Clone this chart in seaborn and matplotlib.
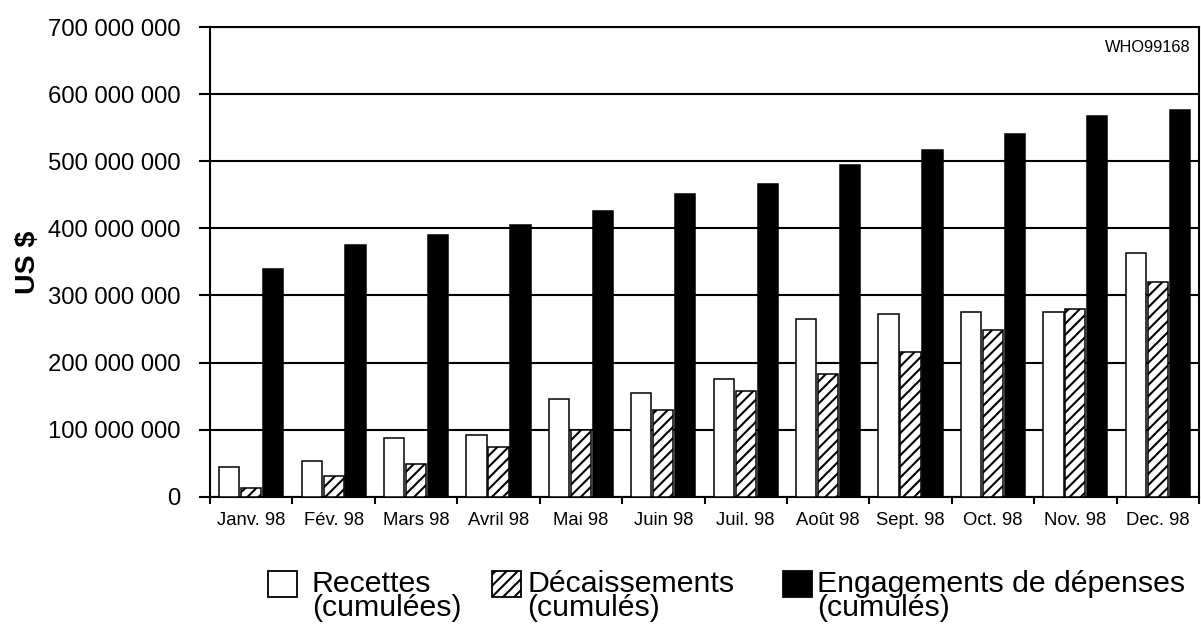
import numpy as np
import pandas as pd
import matplotlib
matplotlib.use("Agg")
import matplotlib.pyplot as plt
from matplotlib.patches import Patch, Rectangle
from matplotlib.legend_handler import HandlerPatch
from matplotlib.ticker import FuncFormatter
import seaborn as sns

# Mois (1998)
mois = ["Janv. 98", "Fév. 98", "Mars 98", "Avril 98", "Mai 98", "Juin 98",
        "Juil. 98", "Août 98", "Sept. 98", "Oct. 98", "Nov. 98", "Dec. 98"]

# Montants cumulés en US $
recettes = [45_000_000, 53_000_000, 88_000_000, 92_000_000, 146_000_000, 154_000_000,
            175_000_000, 265_000_000, 273_000_000, 276_000_000, 276_000_000, 363_000_000]
decaissements = [13_000_000, 31_000_000, 49_000_000, 74_000_000, 99_000_000, 129_000_000,
                 158_000_000, 183_000_000, 216_000_000, 248_000_000, 280_000_000, 320_000_000]
engagements = [339_000_000, 375_000_000, 390_000_000, 405_000_000, 426_000_000, 451_000_000,
               466_000_000, 495_000_000, 516_000_000, 541_000_000, 567_000_000, 577_000_000]

series = ["Recettes\n(cumulées)", "Décaissements\n(cumulés)",
          "Engagements de dépenses\n(cumulés)"]
y_ticks = [0, 100_000_000, 200_000_000, 300_000_000, 400_000_000,
           500_000_000, 600_000_000, 700_000_000]

df = pd.DataFrame({
    "Mois": mois * 3,
    "Montant": recettes + decaissements + engagements,
    "Série": [series[0]] * 12 + [series[1]] * 12 + [series[2]] * 12,
})

sns.set_style("white")
plt.rcParams["font.family"] = ["Liberation Sans", "DejaVu Sans"]
plt.rcParams["text.color"] = "black"
plt.rcParams["axes.labelcolor"] = "black"
plt.rcParams["xtick.color"] = "black"
plt.rcParams["ytick.color"] = "black"
plt.rcParams["hatch.linewidth"] = 1.5

styles = {
    series[0]: dict(facecolor="white", hatch=None),
    series[1]: dict(facecolor="white", hatch="///"),
    series[2]: dict(facecolor="black", hatch=None),
}

fig = plt.figure(figsize=(12.01, 6.28), dpi=100)
ax = fig.add_axes([210 / 1201, 131.3 / 628, 989 / 1201, 469.7 / 628])

sns.barplot(data=df, x="Mois", y="Montant", hue="Série", order=mois,
            hue_order=series, palette={s: styles[s]["facecolor"] for s in series},
            saturation=1, width=0.8, gap=0.08, edgecolor="black", linewidth=1.1,
            legend=False, zorder=3, ax=ax)

for cont, s in zip(ax.containers, series):
    for bar in cont:
        bar.set_facecolor(styles[s]["facecolor"])
        bar.set_edgecolor("black")
        if styles[s]["hatch"]:
            bar.set_hatch(styles[s]["hatch"])

# Axes, grid and frame
ax.set_ylim(0, 700_000_000)
ax.set_xlim(-0.5, len(mois) - 0.5)
ax.set_yticks(y_ticks)
ax.yaxis.set_major_formatter(FuncFormatter(lambda v, _: f"{v:,.0f}".replace(",", " ")))
ax.yaxis.grid(True, color="black", linewidth=1.5, zorder=0)
ax.set_axisbelow(True)
for sp in ax.spines.values():
    sp.set_visible(True)
    sp.set_color("black")
    sp.set_linewidth(1.5)

ax.set_xticks(np.arange(-0.5, len(mois), 1))
ax.set_xticks(np.arange(len(mois)), labels=mois, minor=True)
ax.tick_params(axis="x", which="major", length=5, width=1.5, color="black",
               direction="out", labelbottom=False, bottom=True)
ax.tick_params(axis="x", which="minor", length=0, labelsize=13.3, pad=11)
ax.tick_params(axis="y", which="major", length=8, width=1.5, color="black",
               direction="out", left=True, labelsize=17.2, pad=13.5)
ax.set_xlabel("")
ax.set_ylabel("US $", fontsize=20.5, fontweight="bold", labelpad=5)

ax.text(0.991, 0.956, "WHO99168", transform=ax.transAxes, ha="right",
        va="center", fontsize=11.8)


class TopAlignedPatch(HandlerPatch):
    """Legend box aligned with the first line of a two-line label."""

    def __init__(self, shift, **kw):
        super().__init__(**kw)
        self.shift = shift

    def create_artists(self, legend, orig_handle, xdescent, ydescent,
                       width, height, fontsize, trans):
        p = Rectangle((-xdescent, -ydescent + self.shift * fontsize), width, height)
        self.update_prop(p, orig_handle, legend)
        p.set_transform(trans)
        return [p]


# One legend entry per series, laid out in a row under the chart
legend_fs = 21.8
fs_px = legend_fs * 100 / 72
legend_x = [268, 492, 783]
legend_gap_px = [15, 6, 5]
for s, x0, gap_px in zip(series, legend_x, legend_gap_px):
    h = Patch(facecolor=styles[s]["facecolor"], edgecolor="black",
              hatch=styles[s]["hatch"], linewidth=1.3)
    leg = fig.legend([h], [s], loc="upper left",
                     bbox_to_anchor=(x0 / 1201, 1 - 570 / 628),
                     frameon=False, borderpad=0, borderaxespad=0,
                     handlelength=29 / fs_px, handleheight=0.943,
                     handletextpad=gap_px / fs_px,
                     prop=dict(size=legend_fs),
                     handler_map={Patch: TopAlignedPatch(0.41)})
    for t in leg.get_texts():
        t.set_linespacing(0.84)

fig.savefig("out.png", dpi=100)
